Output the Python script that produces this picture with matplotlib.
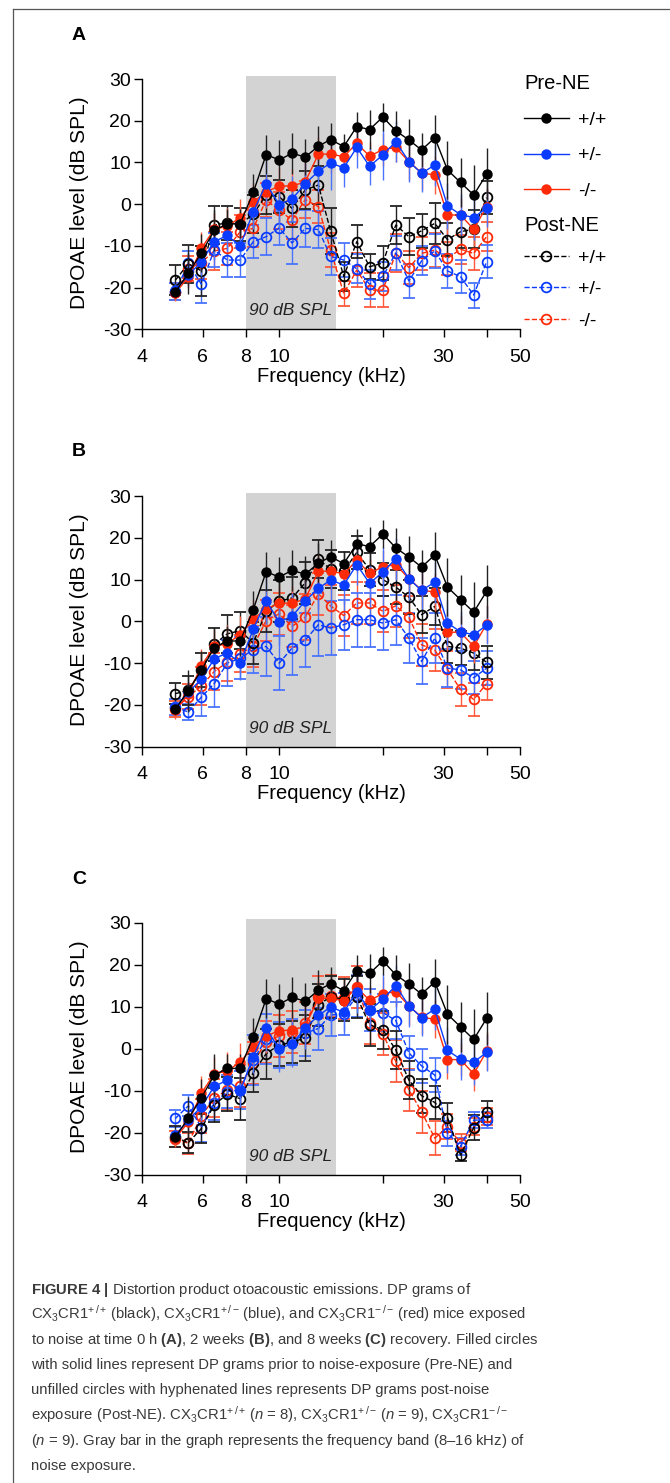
import numpy as np
import matplotlib
matplotlib.use('Agg')
from matplotlib import pyplot as plt
from matplotlib import font_manager
from matplotlib.lines import Line2D
from matplotlib.ticker import FixedLocator, FixedFormatter, NullLocator

plt.rcParams['font.family'] = ['Liberation Sans', 'DejaVu Sans']
plt.rcParams['axes.unicode_minus'] = False

# 频率点 (kHz)
freq = [5.0, 5.45, 5.95, 6.48, 7.07, 7.71, 8.41, 9.17, 10.0, 10.9, 11.9, 13.0, 14.1,
        15.4, 16.8, 18.3, 20.0, 21.8, 23.8, 25.9, 28.3, 30.8, 33.6, 36.7, 40.0]

# Pre-NE (三幅图相同)
pre_wt = [-21.0, -16.6, -11.7, -6.3, -4.7, -4.7, 2.8, 11.9, 10.6, 12.2, 11.3, 13.9, 15.5,
          13.8, 18.6, 17.9, 20.9, 17.6, 15.4, 13.0, 15.9, 8.2, 5.2, 2.2, 7.2]
pre_het = [-20.6, -17.0, -13.8, -9.0, -7.5, -10.0, -1.9, 4.9, -0.1, 1.2, 4.9, 7.9, 9.9,
           8.7, 13.6, 9.1, 11.8, 15.0, 10.2, 7.4, 9.4, -0.4, -2.5, -3.2, -0.9]
pre_ko = [-21.3, -17.5, -10.6, -6.0, -5.3, -3.2, 0.5, 3.0, 4.3, 4.4, 5.3, 12.0, 12.0,
          11.4, 14.6, 11.5, 13.1, 13.6, 10.2, 7.5, 7.0, -2.6, -2.6, -6.0, -0.6]
pre_wt_err = [1.5, 5.0, 4.5, 5.0, 3.5, 3.5, 4.5, 4.7, 4.9, 4.9, 4.4, 4.8, 3.9,
              3.0, 3.6, 4.6, 3.3, 4.8, 5.0, 4.0, 5.4, 7.0, 5.9, 7.2, 6.3]
pre_het_err = [1.5, 2.5, 3.5, 4.5, 3.5, 4.0, 4.0, 5.5, 5.5, 5.5, 5.0, 5.0, 6.5,
               4.5, 5.0, 4.5, 6.0, 5.0, 5.0, 4.5, 5.0, 5.5, 5.0, 5.5, 4.5]
pre_ko_err = [2.0, 2.5, 4.0, 4.0, 4.5, 4.5, 4.5, 4.0, 4.5, 4.0, 5.0, 4.0, 4.5,
              3.5, 3.0, 3.5, 4.0, 3.5, 4.5, 4.0, 4.5, 4.5, 4.0, 4.0, 4.5]

# Post-NE, A: 0 h
postA_wt = [-18.2, -14.3, -16.0, -5.0, -4.5, -4.8, -2.4, 2.2, 1.8, -1.0, 3.4, 4.6, -6.4,
            -17.3, -9.0, -15.0, -14.1, -5.0, -7.8, -6.4, -4.6, -8.5, -6.6, -6.0, 1.6]
postA_het = [-21.0, -14.2, -19.2, -11.0, -13.4, -13.4, -9.0, -7.8, -5.7, -9.3, -5.8, -6.1, -12.5,
             -13.4, -15.5, -19.2, -17.3, -11.7, -18.4, -13.6, -11.2, -16.0, -17.4, -21.8, -13.8]
postA_ko = [-21.0, -15.5, -14.0, -11.2, -10.6, -6.6, -5.8, 1.0, -1.5, -3.8, 1.1, -0.6, -11.0,
            -21.4, -15.8, -20.6, -20.6, -11.7, -15.2, -11.8, -11.0, -13.0, -10.8, -11.8, -7.8]
postA_wt_err = [3.5, 4.5, 6.0, 4.5, 4.0, 4.0, 4.5, 4.5, 4.0, 4.5, 4.5, 4.5, 5.5,
                3.5, 4.0, 3.0, 4.0, 4.5, 4.5, 4.0, 5.0, 4.0, 4.0, 4.5, 4.0]
postA_het_err = [2.0, 3.0, 4.5, 4.0, 4.0, 4.0, 4.0, 4.5, 4.0, 5.0, 4.5, 4.5, 4.5,
                 4.0, 3.5, 3.5, 3.5, 4.0, 4.0, 3.5, 4.0, 4.0, 4.0, 3.0, 4.0]
postA_ko_err = [2.0, 3.0, 4.0, 4.5, 4.0, 4.0, 4.5, 4.0, 4.5, 4.5, 4.5, 4.0, 4.0,
                3.0, 4.0, 4.0, 4.0, 4.5, 4.0, 4.0, 4.0, 4.0, 3.5, 4.0, 3.5]

# Post-NE, B: 2 周
postB_wt = [-17.3, -16.5, -11.6, -5.5, -3.0, -2.2, -5.2, 2.4, 4.8, 5.6, 9.2, 14.9, 12.5,
            12.0, 16.5, 12.4, 10.0, 8.2, 5.8, 1.6, 3.6, -6.0, -6.4, -7.6, -9.8]
postB_het = [-20.5, -21.7, -18.1, -14.9, -10.0, -8.8, -6.8, -6.0, -10.0, -6.4, -4.5, -0.8, -1.6,
             -0.8, 0.4, 0.4, -0.4, 0.4, -4.0, -9.6, -4.0, -11.2, -11.6, -13.5, -11.2]
postB_ko = [-21.0, -18.0, -15.5, -12.0, -9.8, -7.7, -6.0, 0.2, 1.8, -1.2, 1.0, 6.6, 3.7,
            1.4, 4.4, 4.4, 2.4, 3.7, 1.0, -5.6, -6.9, -11.5, -16.3, -18.7, -14.9]
postB_wt_err = [2.5, 3.5, 4.0, 4.0, 4.5, 4.5, 5.0, 5.0, 5.0, 5.0, 5.0, 4.5, 4.5,
                4.5, 4.0, 4.0, 4.0, 4.0, 4.0, 4.5, 4.5, 4.0, 4.0, 4.0, 4.0]
postB_het_err = [2.0, 2.0, 4.5, 5.5, 5.5, 5.0, 5.5, 7.0, 6.5, 6.5, 6.5, 7.5, 6.5,
                 6.0, 6.5, 6.5, 6.5, 6.0, 6.0, 5.5, 6.0, 4.5, 4.5, 4.0, 4.0]
postB_ko_err = [2.0, 3.0, 4.5, 4.5, 4.5, 4.5, 5.0, 5.0, 5.0, 5.0, 5.5, 5.0, 5.0,
                5.0, 5.0, 5.0, 5.0, 5.0, 5.0, 5.0, 5.0, 4.5, 4.0, 4.0, 4.0]

# Post-NE, C: 8 周
postC_wt = [-21.0, -22.4, -19.0, -13.4, -10.8, -11.9, -5.7, -1.2, 0.9, 1.5, 2.6, 10.4, 12.4,
            11.6, 12.4, 5.7, 4.5, -0.3, -7.5, -11.2, -12.8, -16.4, -25.3, -18.8, -15.0]
postC_het = [-16.6, -13.6, -18.8, -12.9, -10.2, -9.8, -2.7, 2.3, 0.9, 1.5, 3.7, 4.8, 8.0,
             8.3, 12.5, 9.2, 8.6, 6.7, -1.0, -4.1, -6.3, -20.1, -23.3, -17.0, -17.0]
postC_ko = [-21.5, -22.5, -16.0, -11.8, -9.8, -9.0, -3.5, 1.7, 3.0, 4.0, 6.0, 12.4, 12.5,
            12.0, 14.8, 6.0, 3.5, -3.0, -9.8, -15.0, -21.3, -18.6, -22.4, -18.6, -16.2]
postC_wt_err = [2.5, 2.5, 3.5, 4.0, 4.0, 5.0, 4.5, 6.0, 5.0, 5.0, 5.5, 5.0, 5.0,
                5.0, 5.0, 5.0, 4.5, 4.5, 4.5, 4.0, 4.0, 3.5, 1.5, 3.0, 2.5]
postC_het_err = [2.0, 2.5, 3.5, 4.0, 4.0, 4.5, 6.0, 6.0, 5.5, 5.5, 5.5, 5.0, 5.0,
                 5.0, 5.0, 5.0, 4.5, 4.5, 4.0, 4.0, 4.0, 3.0, 2.0, 2.0, 2.0]
postC_ko_err = [2.0, 2.5, 4.0, 4.5, 4.5, 5.0, 5.0, 5.0, 5.0, 5.0, 5.0, 5.0, 5.0,
                5.0, 5.0, 5.0, 5.0, 5.0, 5.0, 5.0, 4.0, 3.0, 2.0, 2.0, 2.0]

xticks = [4, 6, 8, 10, 20, 30, 40, 50]
xticklabels = ['4', '6', '8', '10', '', '30', '', '50']
yticks = [-30, -20, -10, 0, 10, 20, 30]
noise_band = (8, 14.6)

BLACK = '#000000'
BLUE = '#0a3cff'
RED = '#ff2a08'
colors = [BLACK, BLUE, RED]
ecolors = ['#222222', '#4a74ff', '#ff5a3c']

W, H = 670, 1483
fig = plt.figure(figsize=(W / 100, H / 100), dpi=100)


def px_axes(left, top, right, bottom):
    return fig.add_axes([left / W, 1 - bottom / H, (right - left) / W, (bottom - top) / H])


def dp_panel(ax, post, post_err):
    ax.axvspan(noise_band[0], noise_band[1], color='#d3d3d3', lw=0, zorder=0)
    ax.text(np.sqrt(noise_band[0] * noise_band[1]), -25.6, '90 dB SPL', style='italic',
            fontsize=12.5, ha='center', va='center', color='#222222', zorder=1)
    # 先画 Post-NE (空心圆, 虚线), 再画 Pre-NE
    for i in [2, 1, 0]:
        ax.errorbar(freq, post[i], yerr=post_err[i], color=colors[i], ecolor=ecolors[i],
                    ls='--', lw=1.0, marker='o', ms=7, mfc='none', mew=1.3,
                    capsize=4.5, elinewidth=1.0, capthick=1.0, zorder=2)
    pre = [pre_wt, pre_het, pre_ko]
    pre_err = [pre_wt_err, pre_het_err, pre_ko_err]
    for i in [2, 1, 0]:
        ax.errorbar(freq, pre[i], yerr=pre_err[i], color=colors[i], ecolor=ecolors[i],
                    ls='-', lw=1.0, marker='o', ms=7.5, mew=0,
                    capsize=4.5, elinewidth=1.0, capthick=1.0, zorder=3)
    ax.set_xscale('log')
    ax.set_xlim(4, 50)
    ax.set_ylim(-30, 30.8)
    ax.xaxis.set_major_locator(FixedLocator(xticks))
    ax.xaxis.set_major_formatter(FixedFormatter(xticklabels))
    ax.xaxis.set_minor_locator(NullLocator())
    ax.set_yticks(yticks)
    ax.spines['left'].set_bounds(-30, 30)
    for s in ['top', 'right']:
        ax.spines[s].set_visible(False)
    for s in ['left', 'bottom']:
        ax.spines[s].set_linewidth(1.0)
    ax.tick_params(axis='x', direction='out', length=6, width=1.0, pad=8, labelsize=14)
    ax.tick_params(axis='y', direction='out', length=6, width=1.0, pad=2, labelsize=14)
    ax.text(-0.165, 0.5, 'DPOAE level (dB SPL)', transform=ax.transAxes, rotation=90,
            ha='center', va='center', fontsize=15)
    ax.text(0.5, -0.185, 'Frequency (kHz)', transform=ax.transAxes,
            ha='center', va='center', fontsize=14.5)


axA = px_axes(142, 75.7, 520, 329.3)
axB = px_axes(142, 492.7, 520, 746.7)
axC = px_axes(142, 919.3, 520, 1174.7)

dp_panel(axA, [postA_wt, postA_het, postA_ko], [postA_wt_err, postA_het_err, postA_ko_err])
dp_panel(axB, [postB_wt, postB_het, postB_ko], [postB_wt_err, postB_het_err, postB_ko_err])
dp_panel(axC, [postC_wt, postC_het, postC_ko], [postC_wt_err, postC_het_err, postC_ko_err])

for letter, y in [('A', 35), ('B', 452), ('C', 880)]:
    fig.text(72 / W, 1 - y / H, letter, fontsize=14, fontweight='bold', ha='left', va='center')

# 图例
genotypes = ['+/+', '+/-', '-/-']
pre_handles = [Line2D([], [], color=c, ls='-', lw=1.0, marker='o', ms=7.5, mew=0) for c in colors]
post_handles = [Line2D([], [], color=c, ls='--', lw=1.0, marker='o', ms=7, mfc='none', mew=1.3)
                for c in colors]
leg_kw = dict(loc='upper left', bbox_transform=fig.transFigure, frameon=False, fontsize=14,
              title_fontsize=14.5, alignment='left', borderpad=0, handlelength=2.3,
              handletextpad=0.5, borderaxespad=0)
leg1 = fig.legend(pre_handles, genotypes, title='Pre-NE', bbox_to_anchor=(524 / W, 1 - 74 / H),
                  labelspacing=0.93, **leg_kw)
leg2 = fig.legend(post_handles, genotypes, title='Post-NE', bbox_to_anchor=(524 / W, 1 - 216 / H),
                  labelspacing=0.72, **leg_kw)

# 外框
fig.add_artist(Line2D([13 / W, 13 / W], [0, 1 - 8.5 / H], transform=fig.transFigure,
                      color='#555555', lw=0.9))
fig.add_artist(Line2D([13 / W, 1], [1 - 8.5 / H, 1 - 8.5 / H], transform=fig.transFigure,
                      color='#555555', lw=0.9))

# 图注
names = {f.name for f in font_manager.fontManager.ttflist}
cap_font = 'Liberation Sans Narrow' if 'Liberation Sans Narrow' in names else 'Liberation Sans'
cap_size = 12.3 if cap_font == 'Liberation Sans Narrow' else 10.7
plt.rcParams['mathtext.fontset'] = 'custom'
plt.rcParams['mathtext.rm'] = cap_font
plt.rcParams['mathtext.it'] = cap_font + ':italic'
plt.rcParams['mathtext.bf'] = cap_font + ':bold'

wt_sup = r'$^{{+}\,/\,{+}}$'
het_sup = r'$^{{+}\,/\,{-}}$'
ko_sup = r'$^{{-}\,/\,{-}}$'
caption_lines = [
    r'$\mathbf{FIGURE\ 4\ |}$ Distortion product otoacoustic emissions. DP grams of',
    'CX$_3$CR1' + wt_sup + ' (black), CX$_3$CR1' + het_sup + ' (blue), and CX$_3$CR1' + ko_sup
    + ' (red) mice exposed',
    r'to noise at time 0 h $\mathbf{(A)}$, 2 weeks $\mathbf{(B)}$, and 8 weeks $\mathbf{(C)}$ recovery. Filled circles',
    'with solid lines represent DP grams prior to noise-exposure (Pre-NE) and',
    'unfilled circles with hyphenated lines represents DP grams post-noise',
    'exposure (Post-NE). CX$_3$CR1' + wt_sup + r' ($\mathit{n}$ = 8), CX$_3$CR1' + het_sup
    + r' ($\mathit{n}$ = 9), CX$_3$CR1' + ko_sup,
    r'($\mathit{n}$ = 9). Gray bar in the graph represents the frequency band (8–16 kHz) of',
    'noise exposure.',
]
for k, line in enumerate(caption_lines):
    fig.text(31 / W, 1 - (1294 + 25.1 * k) / H, line, family=cap_font, fontsize=cap_size,
             color='#3a3a3a', ha='left', va='baseline')

fig.savefig('out.png', dpi=100)
